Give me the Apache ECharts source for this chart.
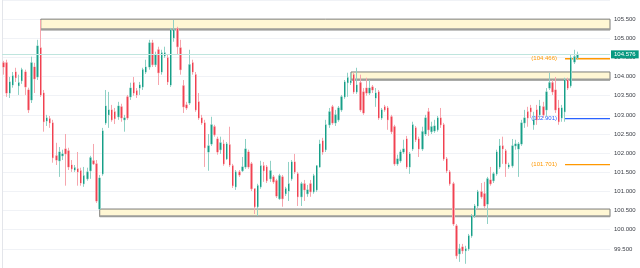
<!DOCTYPE html>
<html><head><meta charset="utf-8">
<script src="https://cdn.jsdelivr.net/npm/echarts@6/dist/echarts.min.js"></script>
<style>html,body{margin:0;padding:0;background:#fff}#c{width:640px;height:268px}</style>
</head><body><div id="c"></div>
<script>
const opens = [
104.36,104.36,103.57,103.78,104.12,103.76,103.89,104.12,103.65,103.39,
104.25,103.99,104.75,103.57,102.84,102.90,102.79,101.93,101.80,101.93,
102.11,102.06,101.69,101.56,101.59,101.54,101.20,101.33,101.54,101.80,
101.72,100.54,101.46,102.79,103.00,103.13,103.08,102.95,103.21,102.87,
103.47,103.47,103.84,103.63,103.70,103.73,104.12,104.25,104.88,104.31,
104.70,104.12,104.54,104.49,103.78,105.01,105.25,104.75,103.76,103.26,
103.31,104.36,104.05,103.34,102.92,102.79,102.03,102.24,102.69,102.37,
102.09,102.24,101.85,102.22,101.67,101.12,101.51,101.54,101.64,102.03,
101.72,101.07,100.60,101.12,101.67,101.64,101.33,101.38,101.28,100.81,
101.38,100.94,101.01,101.33,101.77,101.46,100.86,101.20,100.94,101.20,
100.99,101.04,101.64,102.32,102.09,102.74,103.21,102.79,102.87,103.13,
103.47,103.84,103.84,104.05,103.60,103.84,103.60,103.70,103.57,103.73,
103.44,103.60,102.92,103.21,103.18,102.95,102.69,101.72,101.80,102.03,
102.37,101.64,102.11,102.66,102.37,102.11,102.50,103.08,102.56,102.58,
102.61,102.92,102.74,101.85,101.51,101.20,100.10,99.37,99.55,99.45,
99.50,99.84,100.36,100.62,100.99,100.94,100.67,101.30,101.28,101.46,
101.64,102.19,102.06,101.64,101.67,102.19,102.11,102.24,102.79,103.08,
103.18,102.74,103.13,103.00,103.21,103.13,103.70,103.84,103.65,103.18,
102.92,103.08,103.91,103.76,104.38,104.49];
const closes = [
104.25,103.57,103.86,104.02,103.97,103.84,104.18,103.73,103.13,104.36,
103.94,104.80,103.52,102.82,102.92,102.79,101.88,101.82,102.03,101.98,
101.98,101.64,101.59,101.62,101.51,101.22,101.41,101.51,101.88,101.72,
100.75,101.35,102.58,103.23,103.13,102.87,102.90,103.23,102.92,102.92,
102.92,103.70,103.57,103.52,103.78,104.18,104.25,104.88,104.31,104.57,
104.10,104.62,104.62,103.86,105.22,105.22,104.78,104.18,103.21,103.18,
104.31,104.12,103.13,102.92,102.79,102.14,102.19,102.74,102.48,102.03,
102.27,101.72,102.24,101.69,101.15,101.51,101.43,101.64,102.11,101.64,
101.07,100.60,101.15,101.67,101.54,101.28,101.54,101.25,100.88,101.41,
100.81,101.07,101.20,101.77,101.51,100.86,101.20,101.04,101.04,100.99,
101.41,101.67,102.24,102.03,102.74,103.08,102.79,103.00,103.18,103.47,
103.86,103.97,103.89,103.60,103.78,103.13,103.05,103.57,103.70,103.65,
103.57,102.92,103.13,103.13,102.87,102.56,101.72,101.85,102.03,102.11,
101.64,101.98,102.74,102.35,102.11,102.56,102.92,102.61,102.69,102.71,
102.92,102.74,101.85,101.54,101.20,100.15,99.32,99.50,99.45,99.50,
99.84,100.36,100.62,100.99,100.86,100.62,101.33,101.20,101.46,102.03,
102.19,102.11,101.72,101.69,102.19,102.24,102.24,102.79,102.92,102.92,
103.08,102.87,102.87,103.23,103.00,103.60,103.84,103.60,103.13,102.82,
103.18,103.91,103.70,104.49,104.52,104.58];
const lows = [
104.05,103.47,103.44,103.71,103.86,103.52,103.81,103.52,103.05,103.31,
103.57,103.91,103.47,102.56,102.71,102.66,101.75,101.69,101.38,101.82,
101.15,101.56,101.51,101.51,101.15,101.15,101.12,101.28,101.33,101.69,
100.70,100.52,101.41,102.74,102.66,102.82,102.76,102.87,102.82,102.56,
102.87,103.39,103.50,103.44,103.52,103.65,104.07,104.18,104.25,104.25,
103.78,104.05,104.49,103.78,103.73,104.91,104.57,104.05,103.05,103.13,
103.26,104.05,103.08,102.87,102.74,101.64,101.54,102.19,102.43,101.96,
101.98,101.67,101.82,101.64,101.09,101.04,101.38,101.51,101.59,101.59,
101.01,100.41,100.36,101.07,101.25,101.22,101.25,101.20,100.83,100.78,
100.60,100.88,100.75,101.28,101.46,100.62,100.62,100.75,100.86,100.86,
100.94,100.99,101.62,101.96,102.03,102.66,102.74,102.71,102.82,103.08,
103.42,103.47,103.78,103.55,103.55,103.08,103.00,103.50,103.52,103.57,
103.21,102.87,102.87,103.08,102.61,102.50,101.67,101.67,101.75,101.98,
101.59,101.46,102.06,102.29,101.90,102.06,102.45,102.45,102.50,102.53,
102.56,102.66,101.80,101.48,101.15,100.10,99.24,99.16,99.37,99.11,
99.45,99.79,100.31,100.57,100.81,100.57,100.15,101.15,101.22,101.41,
101.59,101.72,101.38,101.59,101.62,102.09,101.38,102.19,102.66,102.69,
102.92,102.61,102.74,102.92,102.92,102.95,103.65,103.52,103.05,102.74,
102.82,102.82,103.65,103.71,104.33,104.44];
const highs = [
104.41,104.44,103.99,104.12,104.23,104.05,104.23,104.18,103.71,104.52,
104.36,104.96,105.48,103.65,103.00,102.97,102.87,102.27,102.16,102.09,
102.50,102.14,101.82,101.69,102.03,101.62,101.64,101.62,101.93,102.24,
101.82,101.43,102.66,103.65,103.60,103.26,103.18,103.34,103.29,103.00,
103.52,103.84,103.99,103.70,103.86,104.23,104.44,104.96,104.96,104.65,
104.78,104.70,104.78,104.57,105.27,105.48,105.30,104.96,103.91,103.34,
104.70,104.44,104.12,103.57,103.00,102.87,102.50,102.95,102.74,102.43,
102.43,102.35,102.29,102.69,101.72,101.56,101.56,101.90,102.37,102.09,
101.77,101.07,101.20,101.80,101.77,101.69,101.80,101.43,101.33,101.46,
101.43,101.12,101.77,101.82,101.98,101.51,101.25,101.30,101.17,101.30,
101.46,101.69,102.35,102.40,102.87,103.18,103.26,103.13,103.23,103.52,
103.91,104.10,104.10,104.10,104.23,104.05,103.70,103.97,103.91,103.78,
103.70,103.65,103.18,103.26,103.23,103.00,102.74,101.96,102.09,102.35,
102.45,102.03,102.82,102.71,102.43,102.69,103.00,103.18,102.82,102.87,
102.97,103.18,102.79,101.90,101.56,101.25,100.15,99.63,99.63,99.58,
99.89,100.41,100.67,101.04,101.22,101.25,101.38,101.64,101.51,102.09,
102.37,102.43,102.11,101.75,102.37,102.35,102.29,102.87,103.13,103.21,
103.26,103.08,103.26,103.39,103.34,103.70,104.10,103.91,103.99,103.39,
103.26,103.97,103.97,104.57,104.70,104.65];

// supply/demand zones: start bar index, low, high
const zoneStart = [12, 31, 112];
const zoneLow = [105.22, 100.34, 103.91];
const zoneHigh = [105.50, 100.54, 104.12];

// level lines on the right
const levelValues = [104.466, 102.901, 101.701];
const levelColors = ['#ff9800', '#2962ff', '#ff9800'];
const levelStart = [181, 181, 181];

const lastPrice = 104.576;
const yMin = 99, yMax = 106, yStep = 0.5;
const emptySlots = 10;

const categories = Array.from({length: opens.length + emptySlots}, (_, i) => String(i + 1));
const wickData = opens.map((o, i) => [o, closes[i], lows[i], highs[i]]);
const bodyData = opens.map((o, i) => [o, closes[i], Math.min(o, closes[i]), Math.max(o, closes[i])]);

const UP = '#089981', DN = '#f23645';
const UPW = '#8fd1c5', DNW = '#f6a5ad';
const FONT = 'Liberation Sans';

const areaData = zoneStart.map((s, i) => [
  {xAxis: s, yAxis: zoneHigh[i], itemStyle: {color: '#fff7d4', borderColor: '#7c7d7a', borderWidth: 1}},
  {yAxis: zoneLow[i]}
]).concat(zoneStart.map((s, i) => [
  {xAxis: s, yAxis: zoneLow[i] + 0.04, itemStyle: {color: '#9c9d9a', borderWidth: 0}},
  {yAxis: zoneLow[i] - 0.01}
])).concat(levelValues.map((v, i) => [
  {xAxis: levelStart[i], yAxis: v + 0.018,
   itemStyle: {color: levelColors[i], borderWidth: 0},
   label: {show: true, position: 'left', distance: 8, formatter: '(' + v.toFixed(3) + ')',
           color: levelColors[i], fontSize: 6, fontFamily: FONT}},
  {yAxis: v - 0.018}
]));

const chart = echarts.init(document.getElementById('c'), null, {renderer: 'canvas'});
chart.setOption({
  animation: false,
  grid: {left: 2, right: 30, top: 0, bottom: 0},
  xAxis: {type: 'category', data: categories, boundaryGap: true,
    axisLine: {show: false}, axisTick: {show: false}, axisLabel: {show: false}, splitLine: {show: false}},
  yAxis: [
    {type: 'value', position: 'right', min: yMin, max: yMax, interval: yStep,
     axisLine: {show: false}, axisTick: {show: false},
     axisLabel: {fontSize: 6, color: '#3a3d45', margin: 4, fontFamily: FONT,
       showMinLabel: false, showMaxLabel: false, formatter: v => v.toFixed(3)},
     splitLine: {lineStyle: {color: '#f0f2f6', width: 1}}},
    {type: 'value', position: 'left', min: yMin, max: yMax, interval: yStep,
     axisLine: {show: true, lineStyle: {color: '#e3e5ea'}}, axisTick: {show: false},
     axisLabel: {show: false}, splitLine: {show: false}}
  ],
  series: [
    {type: 'candlestick', name: 'wick', data: wickData, barWidth: 2, z: 3,
     itemStyle: {color: UPW, color0: DNW, borderColor: UPW, borderColor0: DNW, borderWidth: 1},
     markArea: {silent: true, label: {show: false}, data: areaData}},
    {type: 'candlestick', name: 'body', data: bodyData, barWidth: 1.3, z: 4,
     itemStyle: {color: UP, color0: DN, borderColor: UP, borderColor0: DN, borderWidth: 0.9},
     markLine: {silent: true, symbol: ['none', 'none'],
       lineStyle: {color: '#bfe5de', width: 1, type: 'solid'},
       label: {show: true, position: 'end', distance: 1, formatter: lastPrice.toFixed(3),
         backgroundColor: UP, color: '#fff', fontSize: 6, padding: [1, 3, 1, 3], fontFamily: FONT},
       data: [{yAxis: lastPrice}]}}
  ]
});
</script></body></html>
